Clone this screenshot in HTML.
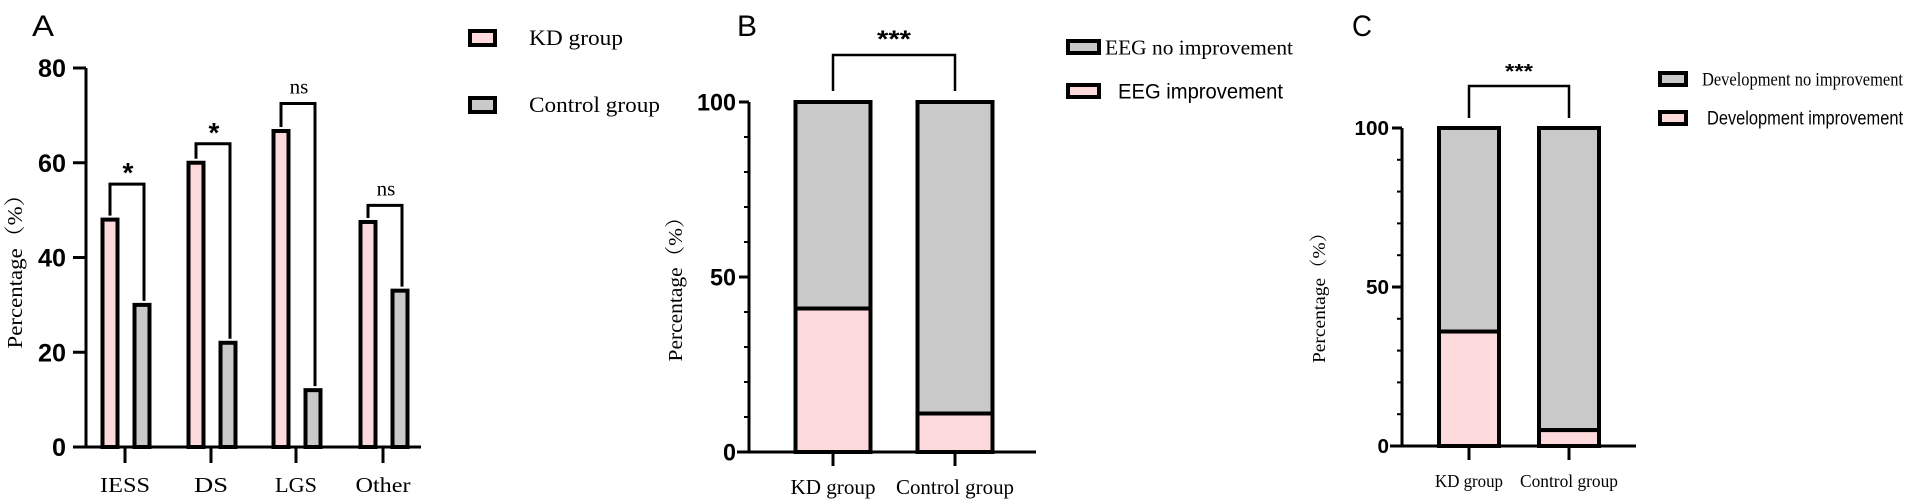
<!DOCTYPE html>
<html><head><meta charset="utf-8">
<style>
html,body{margin:0;padding:0;background:#fff;}
svg{display:block;}
.serif{font-family:"Liberation Serif","Noto Serif CJK SC",serif;}
.sans{font-family:"Liberation Sans","Noto Sans CJK SC",sans-serif;}
</style></head>
<body>
<svg id="fig" width="1908" height="503" viewBox="0 0 1908 503" xmlns="http://www.w3.org/2000/svg"></svg>
<script>
// Panel A data
const aCategories = ["IESS","DS","LGS","Other"];
const aKD = [48, 60, 66.7, 47.5];
const aControl = [30, 22, 12, 33];
const aSig = ["*","*","ns","ns"];
const aBracketTop = [55.5, 64, 72.5, 51];
const aTicks = [0,20,40,60,80];
// Panel B data
const bCategories = ["KD group","Control group"];
const bImprove = [41, 11];
const bTicks = [0,50,100];
// Panel C data
const cCategories = ["KD group","Control group"];
const cImprove = [36, 5];
const cTicks = [0,50,100];

const PINK="#fcd9da", GRAY="#c9c9c9";
const svg=document.getElementById('fig');
const NS="http://www.w3.org/2000/svg";
function mk(tag,attrs,parent){const e=document.createElementNS(NS,tag);for(const k in attrs)e.setAttribute(k,attrs[k]);(parent||svg).appendChild(e);return e;}
function txt(s,attrs,parent,len){const e=mk('text',attrs,parent);e.textContent=s;if(len){e.setAttribute('textLength',len);e.setAttribute('lengthAdjust','spacingAndGlyphs');}return e;}

// ---------- Panel A ----------
const gA=mk('g',{});


const aX0=86, aY0=447, aY80=68;
const ayS=v=>aY0-(v/80)*(aY0-aY80);
const aCatX=[125,211,296,383];
const aLabW=[50,34,42,55];
const t=txt("A",{x:32,y:36,'font-size':30,class:'sans'},gA,22);

mk('line',{x1:aX0,y1:aY80,x2:aX0,y2:aY0,stroke:'#000','stroke-width':3},gA);
mk('line',{x1:73,y1:aY0,x2:421,y2:aY0,stroke:'#000','stroke-width':3},gA);
aTicks.forEach(v=>{
  mk('line',{x1:73,y1:ayS(v),x2:aX0,y2:ayS(v),stroke:'#000','stroke-width':3},gA);
  const s=String(v);
  const l=txt(s,{x:66,y:ayS(v)+9,'font-size':25,'font-weight':'bold','text-anchor':'end',class:'sans'},gA,s.length*14);
  
});
const ya=txt("Percentage（%）",{x:0,y:0,'font-size':21,'text-anchor':'middle',class:'serif',transform:'translate(22,266) rotate(-90)'},gA,165);

aCategories.forEach((c,i)=>{
  const cx=aCatX[i];
  mk('line',{x1:cx,y1:aY0,x2:cx,y2:463,stroke:'#000','stroke-width':3},gA);
  const l=txt(c,{x:cx,y:492,'font-size':21,'text-anchor':'middle',class:'serif'},gA,aLabW[i]);
  
  const k1=cx-15, k2=cx+17, w=15;
  const r1=mk('rect',{x:k1-w/2,y:ayS(aKD[i]),width:w,height:aY0-ayS(aKD[i]),fill:PINK,stroke:'#000','stroke-width':4},gA);
  
  const r2=mk('rect',{x:k2-w/2,y:ayS(aControl[i]),width:w,height:aY0-ayS(aControl[i]),fill:GRAY,stroke:'#000','stroke-width':4},gA);
  
  const top=ayS(aBracketTop[i]);
  const br=mk('polyline',{points:`${k1},${ayS(aKD[i])-4} ${k1},${top} ${k2+2},${top} ${k2+2},${ayS(aControl[i])-4}`,fill:'none',stroke:'#000','stroke-width':3},gA);
  
  const isStar=aSig[i]==='*';
  const s=txt(aSig[i],{x:(k1+k2)/2+2,y:top-(isStar?2:10),'font-size':isStar?28:21,'font-weight':isStar?'bold':'normal','text-anchor':'middle',class:isStar?'sans':'serif'},gA);
  
});
[[PINK,"KD group",38,94],[GRAY,"Control group",105,131]].forEach(([col,lab,y,len])=>{
  const r=mk('rect',{x:470,y:y-7,width:25,height:14,fill:col,stroke:'#000','stroke-width':4},gA);
  
  const l=txt(lab,{x:529,y:y+7,'font-size':22,class:'serif'},gA,len);
  
});

// ---------- stacked panels ----------
function stacked(o){
  const g=mk('g',{});
  
  
  const ys=v=>o.y0-(v/100)*(o.y0-o.y100);
  const pl=txt(o.letter,{x:o.letterX,y:36,'font-size':30,class:'sans'},g,o.letterW);
  
  mk('line',{x1:o.ax,y1:o.y100,x2:o.ax,y2:o.y0,stroke:'#000','stroke-width':3},g);
  mk('line',{x1:o.ax-12,y1:o.y0,x2:o.axEnd,y2:o.y0,stroke:'#000','stroke-width':3},g);
  for(let v=10;v<100;v+=10){ if(v===50)continue;
    mk('line',{x1:o.ax-5,y1:ys(v),x2:o.ax,y2:ys(v),stroke:'#000','stroke-width':2},g);}
  o.ticks.forEach(v=>{
    mk('line',{x1:o.ax-10,y1:ys(v),x2:o.ax,y2:ys(v),stroke:'#000','stroke-width':3},g);
    const s=String(v);
    const l=txt(s,{x:o.tickR,y:ys(v)+o.fs*0.36,'font-size':o.fs,'font-weight':'bold','text-anchor':'end',class:'sans'},g,s.length*o.digW);
    
  });
  const yt=txt("Percentage（%）",{x:0,y:0,'font-size':o.tfs,'text-anchor':'middle',class:'serif',transform:`translate(${o.titleX},${o.titleY}) rotate(-90)`},g,o.titleLen);
  
  o.cats.forEach((c,i)=>{
    const cx=o.catX[i], w=o.barW;
    mk('line',{x1:cx,y1:o.y0,x2:cx,y2:o.y0+14,stroke:'#000','stroke-width':3},g);
    const l=txt(c,{x:cx,y:o.labY,'font-size':o.lfs,'text-anchor':'middle',class:'serif'},g,o.labW[i]);
    
    const top=mk('rect',{x:cx-w/2,y:ys(100),width:w,height:ys(o.vals[i])-ys(100),fill:GRAY,stroke:'#000','stroke-width':4},g);
    
    const bot=mk('rect',{x:cx-w/2,y:ys(o.vals[i]),width:w,height:o.y0-ys(o.vals[i]),fill:PINK,stroke:'#000','stroke-width':4},g);
    
  });
  const br=mk('polyline',{points:`${o.catX[0]},${o.brLeg} ${o.catX[0]},${o.brTop} ${o.catX[1]},${o.brTop} ${o.catX[1]},${o.brLeg}`,fill:'none',stroke:'#000','stroke-width':2.5},g);
  
  const st=txt("***",{x:(o.catX[0]+o.catX[1])/2,y:o.brTop-8,'font-size':o.sfs,'font-weight':'bold','text-anchor':'middle',class:'sans'},g,o.starW);
  
  o.legend.forEach(([col,lab,y,cls,tx,len])=>{
    const r=mk('rect',{x:o.legX,y:y-6,width:o.legW,height:12,fill:col,stroke:'#000','stroke-width':4},g);
    
    const l=txt(lab,{x:tx,y:y+o.legFs*0.35,'font-size':o.legFs,class:cls},g,len);
    
  });
}
stacked({name:'panel-b',letter:'B',letterX:737,letterW:20,ax:749,axEnd:1036,y0:452,y100:102,ticks:bTicks,fs:24,digW:13,tickR:736,tfs:20,titleX:682,titleY:284,titleLen:155,
  cats:bCategories,catX:[833,955],barW:75,vals:bImprove,labY:494,lfs:21,labW:[85,118],brTop:55,brLeg:91,sfs:24,starW:34,
  legX:1068,legW:31,
  legFs:21,
  legend:[[GRAY,"EEG no improvement",47,'serif',1105,188],[PINK,"EEG improvement",91,'sans',1118,165]]});
stacked({name:'panel-c',letter:'C',letterX:1352,letterW:20,ax:1402,axEnd:1636,y0:446,y100:128,ticks:cTicks,fs:20,digW:11.5,tickR:1389,tfs:18,titleX:1325,titleY:293,titleLen:140,
  cats:cCategories,catX:[1469,1569],barW:60,vals:cImprove,labY:487,lfs:18,labW:[68,98],brTop:86,brLeg:118,sfs:20,starW:28,
  legX:1660,legW:26,
  legFs:19,
  legend:[[GRAY,"Development no improvement",79,'serif',1702,201],[PINK,"Development improvement",118,'sans',1707,196]]});
</script>
</body></html>
